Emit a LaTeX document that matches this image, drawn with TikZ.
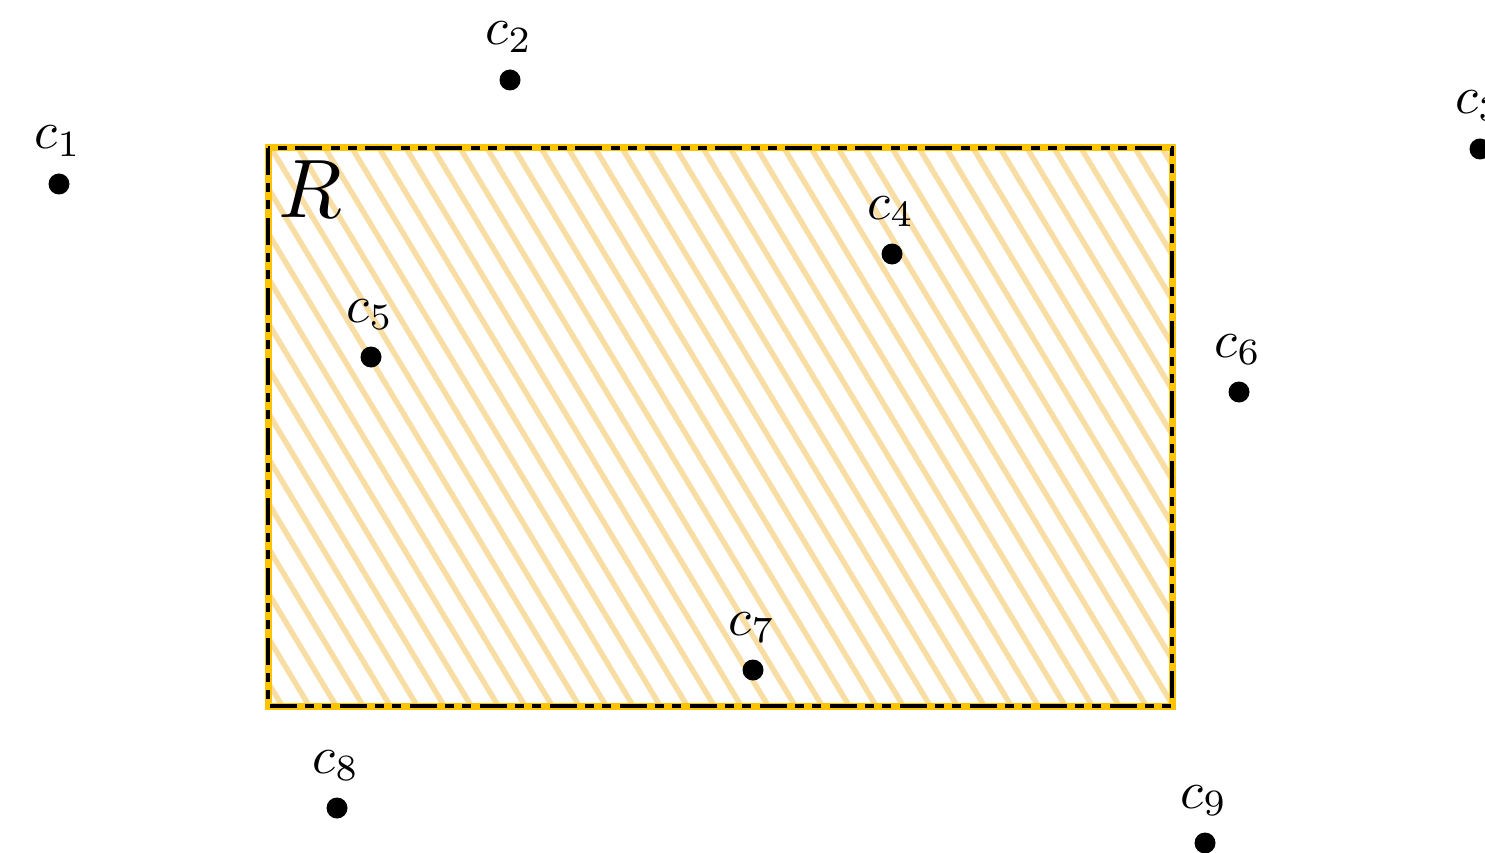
\documentclass[tikz,border=0pt]{standalone}
\usetikzlibrary{calc}
\definecolor{hatchcol}{RGB}{248,222,165}
\definecolor{bordercol}{RGB}{255,196,0}
\tikzset{
  pt/.style={circle,fill=black,inner sep=0pt,minimum size=21pt},
  lab/.style={anchor=base,inner sep=0pt,scale=5.3},
  hatchline/.style={draw=hatchcol,line width=5.5pt},
}
\begin{document}
\begin{tikzpicture}[x=1pt,y=-1pt]
\useasboundingbox (0,0) rectangle (1485,853);
% region
\coordinate (nw) at (268,148);
\coordinate (se) at (1172,706);
\begin{scope}
\clip (nw) rectangle (se);
\foreach \k in {-14,...,34}{
  \draw[hatchline] ($(271,148)+(27*\k,0)+(-6,-10)$) -- ++(340,566);
}
\end{scope}
\draw[bordercol,line width=7pt,line join=miter] (nw) rectangle (se);
\draw[black,line width=3.5pt,dash pattern=on 27pt off 8pt on 9pt off 8pt on 9pt off 9pt] (nw) rectangle (se);
\node[anchor=center,inner sep=0pt,scale=8.3] (R) at (310,189) {$R$};
% points
\foreach \n/\x/\y in {1/59/184,2/510/80,3/1480/149,4/892/254,5/371/357,6/1239/392,7/753/670,8/337/808,9/1205/843}{
  \node[pt] (c\n) at (\x,\y) {};
  \node[lab] (l\n) at ($(c\n)+(-1,-35)$) {$c_{\n}$};
}
\end{tikzpicture}
\end{document}
